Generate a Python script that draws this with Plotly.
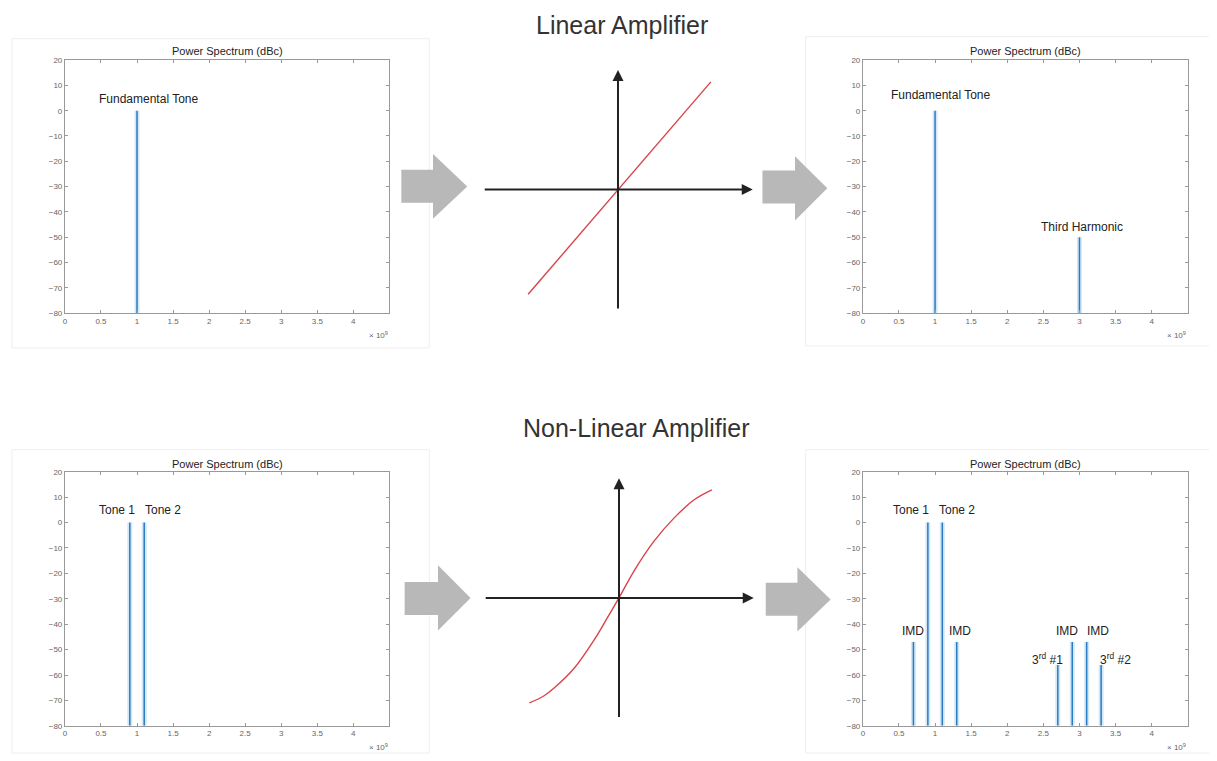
import plotly.graph_objects as go

OFF = 8  # default page body margin
W, H = 1217 - OFF, 761 - OFF

# ---------------- data ----------------
# Spectrum panels: frequency (x 10^9 Hz) and level (dBc)
lin_in_freq = [1.0]
lin_in_level = [0]
lin_out_freq = [1.0, 3.0]
lin_out_level = [0, -50]
nl_in_freq = [0.9, 1.1]
nl_in_level = [0, 0]
nl_out_freq = [0.7, 0.9, 1.1, 1.3, 2.7, 2.9, 3.1, 3.3]
nl_out_level = [-47, 0, 0, -47, -56, -47, -47, -56]

# Labels: (text, x, y)
lin_in_labels = [("Fundamental Tone", 0.44, 4.6)]
lin_out_labels = [("Fundamental Tone", 0.36, 6.3), ("Third Harmonic", 2.44, -46)]
nl_in_labels = [("Tone 1", 0.45, 4.8), ("Tone 2", 1.09, 4.8)]
nl_out_labels = [("Tone 1", 0.39, 4.8), ("Tone 2", 1.03, 4.8),
                 ("IMD", 0.52, -42.8), ("IMD", 1.17, -42.8),
                 ("IMD", 2.65, -42.8), ("IMD", 3.07, -42.8),
                 ("3<sup>rd</sup> #1", 2.31, -53.8), ("3<sup>rd</sup> #2", 3.26, -53.8)]

x_ticks = [0, 0.5, 1, 1.5, 2, 2.5, 3, 3.5, 4]
x_ticktext = ["0", "0.5", "1", "1.5", "2", "2.5", "3", "3.5", "4"]
y_ticks = [20, 10, 0, -10, -20, -30, -40, -50, -60, -70, -80]
floor_db = -80

# Amplifier transfer curves (input, output)
lin_tf_in = [-90, 93]
lin_tf_out = [-106, 109]
nl_tf_in = [-89.7, -75, -64.7, -44.7, -24.7, -11.3, 0, 15.3, 35.3, 55.3, 75.3, 93]
nl_tf_out = [-106.3, -99, -91, -71, -42.3, -19.5, 0, 27.7, 57.7, 81, 99.3, 109.3]

# ---------------- helpers ----------------
def px(x):
    return (x - OFF) / W

def py(y):
    return 1 - (y - OFF) / H

fig = go.Figure()
FONT = "Liberation Sans, Arial, sans-serif"

panels = [
    # (freqs, levels, labels, xdomain px, ydomain px, title y px, x10 y px)
    (lin_in_freq, lin_in_level, lin_in_labels, (63, 388), (56.7, 312.7), 47, 335),
    (lin_out_freq, lin_out_level, lin_out_labels, (862.3, 1187.7), (56.7, 312.7), 47, 335),
    (nl_in_freq, nl_in_level, nl_in_labels, (63, 388), (473.3, 730.5), 465, 752),
    (nl_out_freq, nl_out_level, nl_out_labels, (862.3, 1187.7), (473.3, 730.5), 465, 752),
]

annotations = []
shapes = []
layout = {}

for i, (fr, lv, labels, xd, yd, ty, x10y) in enumerate(panels, start=1):
    xa = "x" if i == 1 else f"x{i}"
    ya = "y" if i == 1 else f"y{i}"
    xs, ys = [], []
    for f, l in zip(fr, lv):
        xs += [f, f, None]
        ys += [floor_db, l, None]
    fig.add_trace(go.Scatter(x=xs, y=ys, mode="lines", xaxis=xa, yaxis=ya,
                             line=dict(color="rgba(140,195,235,0.40)", width=5),
                             hoverinfo="skip", showlegend=False))
    fig.add_trace(go.Scatter(x=xs, y=ys, mode="lines", xaxis=xa, yaxis=ya,
                             line=dict(color="#2c7bbf", width=1.5),
                             showlegend=False))
    axkey = "xaxis" if i == 1 else f"xaxis{i}"
    aykey = "yaxis" if i == 1 else f"yaxis{i}"
    layout[axkey] = dict(domain=[px(xd[0]), px(xd[1])], range=[0, 4.5],
                         anchor=ya, tickvals=x_ticks, ticktext=x_ticktext,
                         ticks="inside", ticklen=3, tickcolor="#999",
                         showline=True, linecolor="#999", linewidth=1, mirror="ticks",
                         showgrid=False, zeroline=False,
                         tickfont=dict(size=8, color="#666", family=FONT))
    layout[aykey] = dict(domain=[py(yd[1]), py(yd[0])], range=[-80, 20],
                         anchor=xa, tickvals=y_ticks,
                         ticks="inside", ticklen=3, tickcolor="#999",
                         showline=True, linecolor="#999", linewidth=1, mirror="ticks",
                         showgrid=False, zeroline=False,
                         tickfont=dict(size=8, color="#666", family=FONT))
    for txt, lx, ly in labels:
        annotations.append(dict(text=txt, x=lx, y=ly, xref=xa, yref=ya,
                                xanchor="left", yanchor="middle", showarrow=False,
                                font=dict(size=12, color="#222", family=FONT)))
    annotations.append(dict(text="Power Spectrum (dBc)", x=px((xd[0] + xd[1]) / 2), y=py(ty),
                            xref="paper", yref="paper", xanchor="center", yanchor="middle",
                            showarrow=False, font=dict(size=11, color="#222", family=FONT)))
    annotations.append(dict(text="× 10<sup>9</sup>", x=px(xd[1] - 11), y=py(x10y),
                            xref="paper", yref="paper", xanchor="center", yanchor="middle",
                            showarrow=False, font=dict(size=8, color="#666", family=FONT)))

# faint panel frames
for (x0, y0, x1, y1) in [(10, 35, 428, 348), (805, 33, 1215, 346),
                         (10, 451, 428, 758), (805, 451, 1215, 758)]:
    shapes.append(dict(type="rect", xref="paper", yref="paper",
                       x0=px(x0), x1=px(x1), y0=py(y1), y1=py(y0),
                       line=dict(color="#eeeeee", width=1)))

# ---------------- middle diagrams ----------------
mid = [
    (5, lin_tf_in, lin_tf_out, (467, 767), (47.7, 327.7), "Linear Amplifier", 21.5, 620.7, "linear"),
    (6, nl_tf_in, nl_tf_out, (468, 768), (461, 741), "Non-Linear Amplifier", 429, 636, "spline"),
]
for i, tin, tout, xd, yd, title, ty, tx, shape in mid:
    xa, ya = f"x{i}", f"y{i}"
    layout[f"xaxis{i}"] = dict(domain=[px(xd[0]), px(xd[1])], range=[-150, 150],
                               anchor=ya, visible=False)
    layout[f"yaxis{i}"] = dict(domain=[py(yd[1]), py(yd[0])], range=[-140, 140],
                               anchor=xa, visible=False)
    annotations.append(dict(x=135, y=0, ax=-135, ay=0, xref=xa, yref=ya, axref=xa, ayref=ya,
                            showarrow=True, arrowhead=2, arrowsize=1.1, arrowwidth=2,
                            arrowcolor="#222", text=""))
    annotations.append(dict(x=0, y=121, ax=0, ay=-122, xref=xa, yref=ya, axref=xa, ayref=ya,
                            showarrow=True, arrowhead=2, arrowsize=1.1, arrowwidth=2,
                            arrowcolor="#222", text=""))
    fig.add_trace(go.Scatter(x=tin, y=tout, mode="lines", xaxis=xa, yaxis=ya,
                             line=dict(color="#d8444a", width=1.4, shape=shape, smoothing=1.0),
                             showlegend=False))
    annotations.append(dict(text=title, x=px(tx), y=py(ty), xref="paper", yref="paper",
                            xanchor="center", yanchor="middle", showarrow=False,
                            font=dict(size=25, color="#333", family=FONT)))

# gray block arrows: (body x0, head x0, tip x, body y0, body y1, head y0, head y1)
block_arrows = [
    (400, 431.7, 466, 167.7, 201, 151.7, 217.3),
    (761.7, 794.3, 826.7, 168.3, 201.7, 154, 219),
    (403.3, 436.7, 469.3, 585, 618.3, 568, 634),
    (765, 796.7, 830, 585.7, 619, 570, 635),
]
for bx0, hx0, tipx, by0, by1, hy0, hy1 in block_arrows:
    tipy = (hy0 + hy1) / 2
    pts = [(bx0, by0), (hx0, by0), (hx0, hy0), (tipx, tipy), (hx0, hy1), (hx0, by1), (bx0, by1)]
    path = "M " + " L ".join(f"{px(a):.5f},{py(b):.5f}" for a, b in pts) + " Z"
    shapes.append(dict(type="path", xref="paper", yref="paper", path=path,
                       fillcolor="#b8b8b8", line=dict(width=0)))

fig.update_layout(width=W, height=H, margin=dict(l=0, r=0, t=0, b=0),
                  paper_bgcolor="white", plot_bgcolor="white",
                  annotations=annotations, shapes=shapes, showlegend=False,
                  **layout)

fig.write_html("out.html")
